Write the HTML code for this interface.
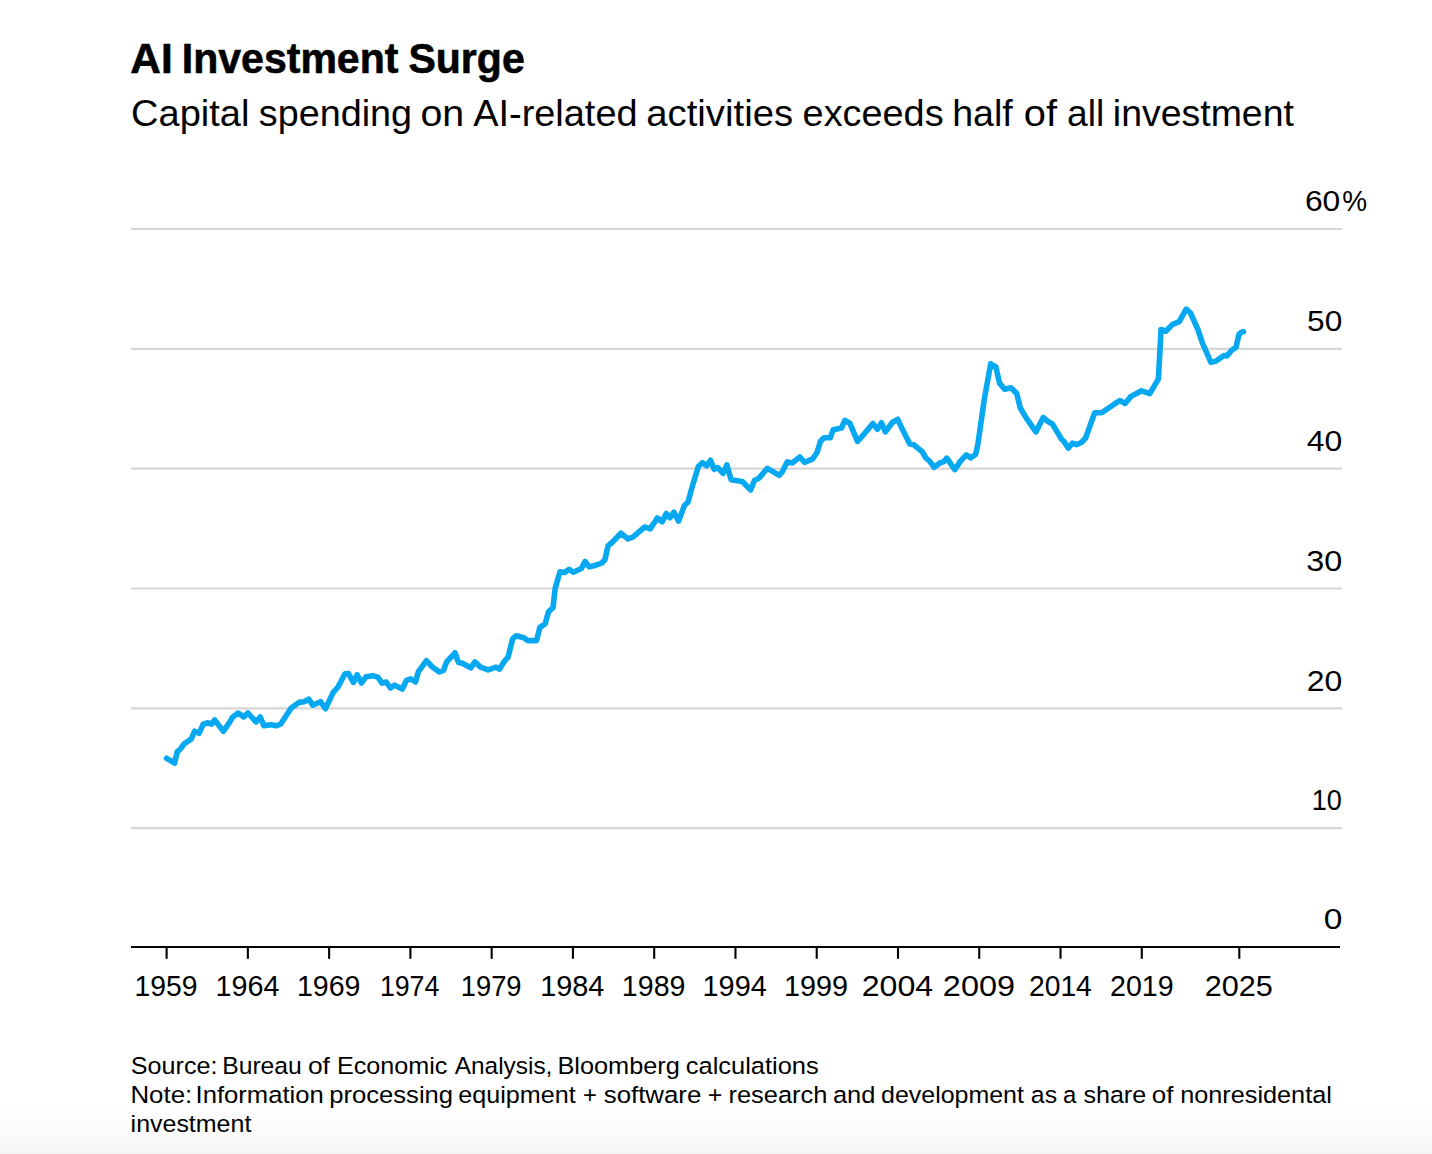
<!DOCTYPE html>
<html><head><meta charset="utf-8"><style>
html,body{margin:0;padding:0;background:#fff;}
body{width:1432px;height:1154px;overflow:hidden;position:relative;}
svg{position:absolute;left:0;top:0;}
text{font-family:"Liberation Sans",sans-serif;fill:#000;}
</style></head><body>
<svg width="1432" height="1154" viewBox="0 0 1432 1154">
<defs><linearGradient id="bg" x1="0" y1="0" x2="0" y2="1">
<stop offset="0" stop-color="#fefefe"/><stop offset="0.5" stop-color="#fcfcfc"/><stop offset="0.75" stop-color="#f9f9f9"/><stop offset="1" stop-color="#f5f5f5"/></linearGradient></defs>
<rect x="0" y="1103" width="1432" height="51" fill="url(#bg)"/>
<text x="130.34" y="72.70" font-size="42.0" font-weight="bold" textLength="42.31" lengthAdjust="spacingAndGlyphs" stroke="#000" stroke-width="0.6">AI</text>
<text x="181.83" y="72.70" font-size="42.0" font-weight="bold" textLength="216.55" lengthAdjust="spacingAndGlyphs" stroke="#000" stroke-width="0.6">Investment</text>
<text x="408.47" y="72.70" font-size="42.0" font-weight="bold" textLength="116.22" lengthAdjust="spacingAndGlyphs" stroke="#000" stroke-width="0.6">Surge</text>
<text x="131.10" y="125.90" font-size="37.3" font-weight="normal" textLength="118.28" lengthAdjust="spacingAndGlyphs">Capital</text>
<text x="258.87" y="125.90" font-size="37.3" font-weight="normal" textLength="153.15" lengthAdjust="spacingAndGlyphs">spending</text>
<text x="420.43" y="125.90" font-size="37.3" font-weight="normal" textLength="43.72" lengthAdjust="spacingAndGlyphs">on</text>
<text x="473.21" y="125.90" font-size="37.3" font-weight="normal" textLength="164.37" lengthAdjust="spacingAndGlyphs">AI-related</text>
<text x="646.28" y="125.90" font-size="37.3" font-weight="normal" textLength="146.85" lengthAdjust="spacingAndGlyphs">activities</text>
<text x="802.60" y="125.90" font-size="37.3" font-weight="normal" textLength="141.01" lengthAdjust="spacingAndGlyphs">exceeds</text>
<text x="952.17" y="125.90" font-size="37.3" font-weight="normal" textLength="60.53" lengthAdjust="spacingAndGlyphs">half</text>
<text x="1023.81" y="125.90" font-size="37.3" font-weight="normal" textLength="33.15" lengthAdjust="spacingAndGlyphs">of</text>
<text x="1067.03" y="125.90" font-size="37.3" font-weight="normal" textLength="37.21" lengthAdjust="spacingAndGlyphs">all</text>
<text x="1112.87" y="125.90" font-size="37.3" font-weight="normal" textLength="181.04" lengthAdjust="spacingAndGlyphs">investment</text>
<line x1="131" y1="229.00" x2="1342" y2="229.00" stroke="#d6d6d6" stroke-width="2.2"/>
<line x1="131" y1="348.84" x2="1342" y2="348.84" stroke="#d6d6d6" stroke-width="2.2"/>
<line x1="131" y1="468.68" x2="1342" y2="468.68" stroke="#d6d6d6" stroke-width="2.2"/>
<line x1="131" y1="588.52" x2="1342" y2="588.52" stroke="#d6d6d6" stroke-width="2.2"/>
<line x1="131" y1="708.36" x2="1342" y2="708.36" stroke="#d6d6d6" stroke-width="2.2"/>
<line x1="131" y1="828.20" x2="1342" y2="828.20" stroke="#d6d6d6" stroke-width="2.2"/>
<line x1="131" y1="947.0" x2="1340" y2="947.0" stroke="#000" stroke-width="2"/>
<line x1="166.60" y1="947.0" x2="166.60" y2="958.8" stroke="#000" stroke-width="2.1"/>
<line x1="247.87" y1="947.0" x2="247.87" y2="958.8" stroke="#000" stroke-width="2.1"/>
<line x1="329.13" y1="947.0" x2="329.13" y2="958.8" stroke="#000" stroke-width="2.1"/>
<line x1="410.40" y1="947.0" x2="410.40" y2="958.8" stroke="#000" stroke-width="2.1"/>
<line x1="491.66" y1="947.0" x2="491.66" y2="958.8" stroke="#000" stroke-width="2.1"/>
<line x1="572.93" y1="947.0" x2="572.93" y2="958.8" stroke="#000" stroke-width="2.1"/>
<line x1="654.19" y1="947.0" x2="654.19" y2="958.8" stroke="#000" stroke-width="2.1"/>
<line x1="735.46" y1="947.0" x2="735.46" y2="958.8" stroke="#000" stroke-width="2.1"/>
<line x1="816.72" y1="947.0" x2="816.72" y2="958.8" stroke="#000" stroke-width="2.1"/>
<line x1="897.99" y1="947.0" x2="897.99" y2="958.8" stroke="#000" stroke-width="2.1"/>
<line x1="979.25" y1="947.0" x2="979.25" y2="958.8" stroke="#000" stroke-width="2.1"/>
<line x1="1060.52" y1="947.0" x2="1060.52" y2="958.8" stroke="#000" stroke-width="2.1"/>
<line x1="1141.78" y1="947.0" x2="1141.78" y2="958.8" stroke="#000" stroke-width="2.1"/>
<line x1="1239.30" y1="947.0" x2="1239.30" y2="958.8" stroke="#000" stroke-width="2.1"/>
<text x="134.57" y="995.70" font-size="28.6" font-weight="normal" textLength="63.03" lengthAdjust="spacingAndGlyphs">1959</text>
<text x="215.44" y="995.70" font-size="28.6" font-weight="normal" textLength="64.01" lengthAdjust="spacingAndGlyphs">1964</text>
<text x="296.96" y="995.70" font-size="28.6" font-weight="normal" textLength="63.56" lengthAdjust="spacingAndGlyphs">1969</text>
<text x="379.89" y="995.70" font-size="28.6" font-weight="normal" textLength="59.50" lengthAdjust="spacingAndGlyphs">1974</text>
<text x="460.75" y="995.70" font-size="28.6" font-weight="normal" textLength="60.81" lengthAdjust="spacingAndGlyphs">1979</text>
<text x="540.23" y="995.70" font-size="28.6" font-weight="normal" textLength="64.22" lengthAdjust="spacingAndGlyphs">1984</text>
<text x="621.86" y="995.70" font-size="28.6" font-weight="normal" textLength="63.56" lengthAdjust="spacingAndGlyphs">1989</text>
<text x="702.53" y="995.70" font-size="28.6" font-weight="normal" textLength="64.32" lengthAdjust="spacingAndGlyphs">1994</text>
<text x="784.04" y="995.70" font-size="28.6" font-weight="normal" textLength="64.09" lengthAdjust="spacingAndGlyphs">1999</text>
<text x="861.69" y="995.70" font-size="28.6" font-weight="normal" textLength="71.46" lengthAdjust="spacingAndGlyphs">2004</text>
<text x="942.88" y="995.70" font-size="28.6" font-weight="normal" textLength="72.13" lengthAdjust="spacingAndGlyphs">2009</text>
<text x="1028.99" y="995.70" font-size="28.6" font-weight="normal" textLength="62.85" lengthAdjust="spacingAndGlyphs">2014</text>
<text x="1109.97" y="995.70" font-size="28.6" font-weight="normal" textLength="63.65" lengthAdjust="spacingAndGlyphs">2019</text>
<text x="1204.67" y="995.70" font-size="28.6" font-weight="normal" textLength="68.14" lengthAdjust="spacingAndGlyphs">2025</text>
<text x="1307.14" y="330.70" font-size="28.6" font-weight="normal" textLength="35.14" lengthAdjust="spacingAndGlyphs">50</text>
<text x="1306.80" y="450.70" font-size="28.6" font-weight="normal" textLength="35.49" lengthAdjust="spacingAndGlyphs">40</text>
<text x="1306.31" y="570.70" font-size="28.6" font-weight="normal" textLength="36.00" lengthAdjust="spacingAndGlyphs">30</text>
<text x="1306.80" y="690.70" font-size="28.6" font-weight="normal" textLength="35.49" lengthAdjust="spacingAndGlyphs">20</text>
<text x="1311.67" y="809.60" font-size="28.6" font-weight="normal" textLength="30.14" lengthAdjust="spacingAndGlyphs">10</text>
<text x="1323.66" y="928.60" font-size="28.6" font-weight="normal" textLength="18.62" lengthAdjust="spacingAndGlyphs">0</text>
<text x="1304.91" y="210.70" font-size="28.6" font-weight="normal" textLength="35.38" lengthAdjust="spacingAndGlyphs">60</text>
<text x="1342.32" y="210.80" font-size="28.6" font-weight="normal" textLength="24.83" lengthAdjust="spacingAndGlyphs">%</text>
<path d="M166.6,758.3 L174.6,763.0 L177.3,751.5 L180.1,749.4 L184.3,743.8 L191.3,738.9 L194.5,731.2 L199.0,733.3 L203.2,724.2 L208.1,722.8 L211.6,724.2 L214.7,720.0 L223.4,731.2 L229.7,722.1 L232.5,717.2 L238.1,713.0 L243.7,716.9 L247.9,713.0 L255.9,721.9 L260.1,717.0 L264.0,725.8 L270.9,724.7 L276.5,725.8 L280.7,724.0 L291.2,708.0 L298.9,702.4 L304.5,701.7 L308.7,699.2 L312.8,705.2 L320.5,701.7 L325.4,708.7 L333.1,692.6 L338.0,687.0 L345.0,673.7 L348.5,673.6 L353.4,682.4 L357.2,674.7 L361.4,683.1 L366.0,676.8 L372.9,675.7 L377.8,677.1 L382.0,683.1 L386.2,682.0 L390.4,688.0 L394.6,685.2 L402.3,689.0 L406.5,680.3 L410.6,678.9 L415.5,682.0 L418.3,671.9 L426.4,660.7 L432.3,667.0 L439.3,671.9 L443.5,670.3 L446.6,661.9 L451.2,657.0 L455.0,652.8 L458.5,662.6 L462.3,663.3 L470.7,667.8 L474.9,661.9 L480.5,667.1 L488.2,669.9 L495.9,667.1 L499.4,669.2 L504.2,661.5 L508.1,657.0 L512.6,638.9 L516.1,635.7 L523.8,637.8 L528.0,640.6 L536.5,640.6 L539.9,627.4 L545.2,623.7 L548.5,611.7 L553.0,607.6 L555.1,588.7 L560.0,571.8 L564.6,572.6 L569.1,569.3 L573.2,572.2 L581.4,568.5 L585.1,561.5 L589.3,566.9 L595.8,565.2 L601.6,563.2 L604.9,559.8 L608.0,545.9 L612.6,542.0 L620.9,533.3 L627.9,538.9 L632.8,537.1 L644.7,527.0 L650.3,528.8 L657.3,517.9 L662.2,521.8 L666.3,513.4 L669.8,517.9 L674.0,512.3 L678.6,521.1 L684.5,505.4 L688.0,501.9 L692.0,487.5 L698.3,466.5 L702.5,462.7 L706.6,465.8 L710.5,460.3 L714.3,469.3 L717.8,467.6 L723.1,473.5 L726.9,464.8 L731.1,479.8 L742.3,481.6 L750.6,489.9 L754.5,480.5 L759.0,478.1 L767.4,468.3 L779.3,475.3 L782.1,472.0 L787.3,461.9 L792.2,463.0 L799.9,457.0 L804.4,462.3 L812.8,458.8 L817.0,452.5 L820.5,441.3 L824.0,437.8 L830.3,437.8 L833.1,429.8 L841.5,428.0 L844.9,420.4 L849.8,423.2 L857.5,441.3 L863.8,434.3 L872.9,423.5 L877.4,429.2 L881.5,422.8 L885.4,431.9 L892.3,422.5 L897.6,419.3 L902.8,430.1 L909.8,444.1 L914.0,444.8 L922.4,451.8 L925.9,458.1 L929.4,460.9 L934.2,467.2 L939.8,463.0 L944.0,461.6 L946.8,458.1 L954.8,469.6 L960.1,461.6 L966.2,454.8 L970.9,457.9 L975.6,454.3 L977.7,445.4 L984.4,398.7 L990.7,363.8 L995.9,367.0 L999.5,383.1 L1004.7,389.3 L1010.9,387.7 L1016.7,393.5 L1020.3,408.0 L1026.5,418.4 L1035.9,431.9 L1043.2,417.4 L1047.3,421.0 L1052.6,424.2 L1061.2,438.7 L1064.0,441.5 L1068.2,448.1 L1072.3,443.2 L1076.5,444.6 L1081.4,442.5 L1085.6,438.0 L1094.7,412.8 L1101.7,412.8 L1114.9,403.7 L1119.8,400.6 L1125.1,403.4 L1131.0,396.4 L1141.5,390.8 L1149.8,393.6 L1158.4,378.9 L1159.7,355.5 L1161.0,329.5 L1165.8,331.2 L1172.7,324.3 L1179.2,321.7 L1186.2,309.1 L1190.5,313.0 L1197.9,329.5 L1202.2,342.5 L1210.9,362.4 L1216.1,361.1 L1223.9,355.5 L1226.9,355.9 L1231.7,350.3 L1236.0,347.2 L1239.0,334.5 L1240.6,332.8 L1243.4,331.6" fill="none" stroke="#06a8f2" stroke-width="5.6" stroke-linejoin="round" stroke-linecap="round"/>
<text x="130.87" y="1074.40" font-size="23.9" font-weight="normal" textLength="86.63" lengthAdjust="spacingAndGlyphs">Source:</text>
<text x="222.23" y="1074.40" font-size="23.9" font-weight="normal" textLength="79.57" lengthAdjust="spacingAndGlyphs">Bureau</text>
<text x="307.94" y="1074.40" font-size="23.9" font-weight="normal" textLength="22.03" lengthAdjust="spacingAndGlyphs">of</text>
<text x="336.99" y="1074.40" font-size="23.9" font-weight="normal" textLength="110.46" lengthAdjust="spacingAndGlyphs">Economic</text>
<text x="454.78" y="1074.40" font-size="23.9" font-weight="normal" textLength="97.65" lengthAdjust="spacingAndGlyphs">Analysis,</text>
<text x="557.48" y="1074.40" font-size="23.9" font-weight="normal" textLength="122.39" lengthAdjust="spacingAndGlyphs">Bloomberg</text>
<text x="685.86" y="1074.40" font-size="23.9" font-weight="normal" textLength="132.84" lengthAdjust="spacingAndGlyphs">calculations</text>
<text x="130.43" y="1102.80" font-size="23.9" font-weight="normal" textLength="61.80" lengthAdjust="spacingAndGlyphs">Note:</text>
<text x="195.59" y="1102.80" font-size="23.9" font-weight="normal" textLength="128.13" lengthAdjust="spacingAndGlyphs">Information</text>
<text x="329.24" y="1102.80" font-size="23.9" font-weight="normal" textLength="123.85" lengthAdjust="spacingAndGlyphs">processing</text>
<text x="458.37" y="1102.80" font-size="23.9" font-weight="normal" textLength="117.35" lengthAdjust="spacingAndGlyphs">equipment</text>
<text x="583.01" y="1102.80" font-size="23.9" font-weight="normal" textLength="13.85" lengthAdjust="spacingAndGlyphs">+</text>
<text x="603.73" y="1102.80" font-size="23.9" font-weight="normal" textLength="97.62" lengthAdjust="spacingAndGlyphs">software</text>
<text x="707.65" y="1102.80" font-size="23.9" font-weight="normal" textLength="14.57" lengthAdjust="spacingAndGlyphs">+</text>
<text x="728.45" y="1102.80" font-size="23.9" font-weight="normal" textLength="99.02" lengthAdjust="spacingAndGlyphs">research</text>
<text x="832.95" y="1102.80" font-size="23.9" font-weight="normal" textLength="42.46" lengthAdjust="spacingAndGlyphs">and</text>
<text x="881.00" y="1102.80" font-size="23.9" font-weight="normal" textLength="142.95" lengthAdjust="spacingAndGlyphs">development</text>
<text x="1030.88" y="1102.80" font-size="23.9" font-weight="normal" textLength="26.21" lengthAdjust="spacingAndGlyphs">as</text>
<text x="1063.12" y="1102.80" font-size="23.9" font-weight="normal" textLength="13.30" lengthAdjust="spacingAndGlyphs">a</text>
<text x="1083.45" y="1102.80" font-size="23.9" font-weight="normal" textLength="62.72" lengthAdjust="spacingAndGlyphs">share</text>
<text x="1151.86" y="1102.80" font-size="23.9" font-weight="normal" textLength="21.61" lengthAdjust="spacingAndGlyphs">of</text>
<text x="1180.16" y="1102.80" font-size="23.9" font-weight="normal" textLength="151.67" lengthAdjust="spacingAndGlyphs">nonresidental</text>
<text x="130.58" y="1131.50" font-size="23.9" font-weight="normal" textLength="120.76" lengthAdjust="spacingAndGlyphs">investment</text>
</svg>
</body></html>
